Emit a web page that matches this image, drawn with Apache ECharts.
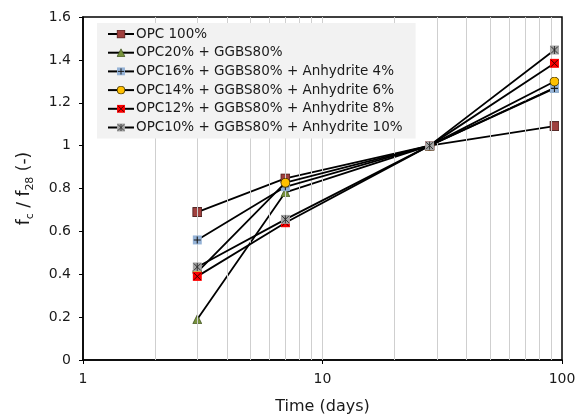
<!DOCTYPE html>
<html><head><meta charset="utf-8">
<script src="https://cdn.jsdelivr.net/npm/echarts@6/dist/echarts.min.js"></script>
<style>html,body{margin:0;padding:0;background:#fff}#c{width:586px;height:418px}</style>
</head><body><div id="c"></div>
<script>
const days = [3, 7, 28, 93];
const seriesNames = ['OPC 100%', 'OPC20% + GGBS80%', 'OPC16% + GGBS80% + Anhydrite 4%', 'OPC14% + GGBS80% + Anhydrite 6%', 'OPC12% + GGBS80% + Anhydrite 8%', 'OPC10% + GGBS80% + Anhydrite 10%'];
const opc100 = [0.69, 0.847, 1.0, 1.091];
const ggbs80 = [0.19, 0.782, 1.0, 1.27];
const anh4 = [0.56, 0.808, 1.0, 1.267];
const anh6 = [0.41, 0.827, 1.0, 1.299];
const anh8 = [0.39, 0.64, 1.0, 1.384];
const anh10 = [0.434, 0.656, 1.0, 1.446];
const gridDays = [2,3,4,5,6,7,8,9,10,20,30,40,50,60,70,80,90];
const yTicks = [0, 0.2, 0.4, 0.6, 0.8, 1, 1.2, 1.4, 1.6];

function svg(s){ return 'image://data:image/svg+xml;charset=utf-8,' + encodeURIComponent('<svg xmlns="http://www.w3.org/2000/svg" width="20" height="20" viewBox="0 0 20 20">' + s + '</svg>'); }
const markers = [
  svg('<rect x="1" y="1" width="18" height="18" fill="#A0403E" stroke="#4a1f1e" stroke-width="2"/>'),
  svg('<polygon points="10,1 19,19 1,19" fill="#77933C" stroke="#3f5020" stroke-width="1.6"/>'),
  svg('<rect x="1" y="1" width="18" height="18" fill="#95B3D7"/><path d="M10 3V17M3 10H17" stroke="#1a1a1a" stroke-width="2.2"/>'),
  svg('<circle cx="10" cy="10" r="9" fill="#FFC000" stroke="#3a2c00" stroke-width="1.8"/>'),
  svg('<rect x="1" y="1" width="18" height="18" fill="#FF0000"/><path d="M3 3L17 17M17 3L3 17" stroke="#3a0000" stroke-width="2"/>'),
  svg('<rect x="1" y="1" width="18" height="18" fill="#A6A6A6"/><path d="M3 3L17 17M17 3L3 17M10 2V18" stroke="#262626" stroke-width="1.8"/>')
];
const values = [opc100, ggbs80, anh4, anh6, anh8, anh10];
const FONT = 'DejaVu Sans';

const series = [{
  type: 'line', data: [], z: 1, silent: true,
  markLine: { silent: true, symbol: 'none', animation: false,
    label: { show: false },
    lineStyle: { color: '#cfcfcf', width: 1, type: 'solid' },
    data: gridDays.map(d => ({ xAxis: d })) }
}];
values.forEach((v, i) => {
  series.push({
    name: seriesNames[i], type: 'line', z: 3 + i,
    data: v.map((y, k) => [days[k], y]),
    symbol: markers[i], symbolSize: 10,
    lineStyle: { color: '#000', width: 1.8 },
    itemStyle: { color: '#000' },
    animation: false
  });
});

const chart = echarts.init(document.getElementById('c'), null, { renderer: 'canvas' });
chart.setOption({
  animation: false,
  backgroundColor: '#fff',
  textStyle: { fontFamily: FONT },
  grid: { left: 83, right: 24, top: 17, bottom: 58, show: true, borderColor: '#000', borderWidth: 1.5, backgroundColor: 'transparent', containLabel: false, outerBoundsMode: 'none' },
  legend: {
    orient: 'vertical', left: 97, top: 23, z: 50,
    backgroundColor: '#f2f2f2',
    padding: [3, 13, 3, 10],
    itemWidth: 26, itemHeight: 11, itemGap: 2.7,
    textStyle: { fontFamily: FONT, fontSize: 13.5, color: '#1a1a1a', lineHeight: 16, padding: [0, 0, 0, -3] },
    data: seriesNames
  },
  xAxis: {
    type: 'log', logBase: 10, min: 1, max: 100,
    name: 'Time (days)', nameLocation: 'middle', nameGap: 39,
    nameTextStyle: { fontFamily: FONT, fontSize: 16, color: '#1a1a1a' },
    axisLine: { lineStyle: { color: '#000', width: 1.5 } },
    axisTick: { show: true, length: 4, lineStyle: { color: '#000' } },
    axisLabel: { fontFamily: FONT, fontSize: 14, color: '#1a1a1a', margin: 12 },
    splitLine: { show: false }
  },
  yAxis: {
    type: 'value', min: 0, max: 1.6, interval: 0.2,
    name: '{n|f}{s|c}{n| / f}{s|28}{n| (-)}', nameLocation: 'middle', nameGap: 50,
    nameTextStyle: { fontFamily: FONT, color: '#1a1a1a',
      rich: {
        n: { fontFamily: FONT, fontSize: 17, color: '#1a1a1a', lineHeight: 22, verticalAlign: 'bottom' },
        s: { fontFamily: FONT, fontSize: 11, color: '#1a1a1a', lineHeight: 22, verticalAlign: 'bottom', padding: [0,0,-3,0] }
      } },
    axisLine: { show: true, lineStyle: { color: '#000', width: 1.5 } },
    axisTick: { show: true, length: 4, lineStyle: { color: '#000' } },
    axisLabel: { fontFamily: FONT, fontSize: 14, color: '#1a1a1a', margin: 12,
      formatter: v => { const t = yTicks.find(x => Math.abs(x - v) < 1e-9); return t === undefined ? '' : String(t); } },
    splitLine: { show: false }
  },
  series: series
});
</script></body></html>
